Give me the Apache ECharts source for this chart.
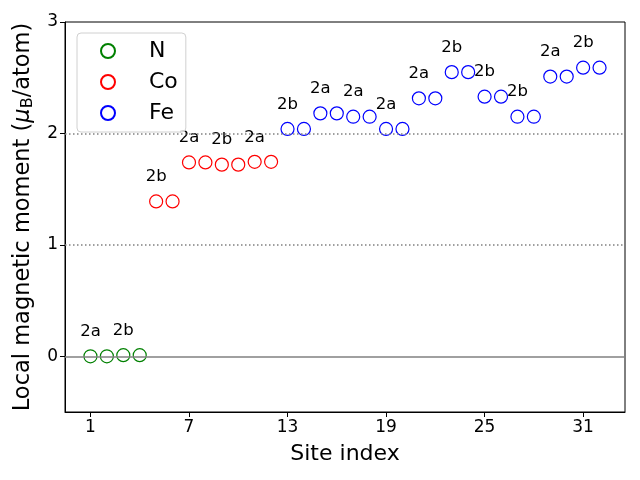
<!DOCTYPE html>
<html>
<head>
<meta charset="utf-8">
<script src="https://cdn.jsdelivr.net/npm/echarts@6/dist/echarts.min.js"></script>
<style>html,body{margin:0;padding:0;background:#fff}#c{width:640px;height:480px}</style>
</head>
<body>
<div id="c"></div>
<script>
var nSites = [1, 2, 3, 4];
var nValues = [0.0, 0.0, 0.01, 0.01];
var coSites = [5, 6, 7, 8, 9, 10, 11, 12];
var coValues = [1.39, 1.39, 1.74, 1.74, 1.72, 1.72, 1.745, 1.745];
var feSites = [13, 14, 15, 16, 17, 18, 19, 20, 21, 22, 23, 24, 25, 26, 27, 28, 29, 30, 31, 32];
var feValues = [2.04, 2.04, 2.18, 2.18, 2.15, 2.15, 2.04, 2.04, 2.315, 2.315, 2.55, 2.55, 2.33, 2.33, 2.15, 2.15, 2.51, 2.51, 2.59, 2.59];
var labelSites = [1, 3, 5, 7, 9, 11, 13, 15, 17, 19, 21, 23, 25, 27, 29, 31];
var labelTexts = ['2a', '2b', '2b', '2a', '2b', '2a', '2b', '2a', '2a', '2a', '2a', '2b', '2b', '2b', '2a', '2b'];
var xTicks = [1, 7, 13, 19, 25, 31];
var yTicks = [0, 1, 2, 3];

function pairs(xs, ys) { return xs.map(function (x, i) { return [x, ys[i]]; }); }
function labelFor(x) {
  var i = labelSites.indexOf(x);
  return i >= 0 ? labelTexts[i] : '';
}
var labelCfg = {
  show: true, position: 'top', distance: 9,
  fontFamily: 'DejaVu Sans', fontSize: 16.5, color: '#000',
  formatter: function (p) { return labelFor(p.data[0]); }
};
function mkSeries(name, color, data, extra) {
  var s = {
    name: name, type: 'scatter', data: data,
    symbol: 'circle', symbolSize: 13,
    itemStyle: { color: 'rgba(255,255,255,0)', borderColor: color, borderWidth: 1.2, opacity: 1 },
    label: labelCfg,
    emphasis: { disabled: true },
    z: 3
  };
  if (extra) for (var k in extra) s[k] = extra[k];
  return s;
}
var font = 'DejaVu Sans';
var chart = echarts.init(document.getElementById('c'), null, { renderer: 'canvas' });
chart.setOption({
  animation: false,
  backgroundColor: '#fff',
  grid: { left: 65, right: 15, top: 22, bottom: 68, show: true, borderColor: '#000', borderWidth: 1, backgroundColor: 'transparent' },
  legend: {
    left: 77, top: 33, orient: 'vertical',
    padding: [7, 8, 8, 23],
    itemWidth: 14, itemHeight: 14, itemGap: 9,
    borderColor: '#d0d0d0', borderWidth: 1, borderRadius: 4,
    backgroundColor: 'rgba(255,255,255,0.8)',
    textStyle: { fontFamily: font, fontSize: 22, color: '#000', lineHeight: 22, padding: [0, 0, 0, 29] },
    data: ['N', 'Co', 'Fe']
  },
  xAxis: {
    type: 'value', min: -0.55, max: 33.55,
    name: 'Site index', nameLocation: 'middle', nameGap: 31,
    nameTextStyle: { fontFamily: font, fontSize: 22, color: '#000' },
    axisLine: { show: true, onZero: false, lineStyle: { color: '#000', width: 1 } },
    axisTick: { show: true, length: 5, lineStyle: { color: '#000' }, customValues: xTicks },
    axisLabel: { fontFamily: font, fontSize: 17, color: '#000', margin: 7, customValues: xTicks },
    splitLine: { show: false }
  },
  yAxis: {
    type: 'value', min: -0.5, max: 3,
    name: 'Local magnetic moment ({i|μ}{sub|B}/atom)', nameLocation: 'middle', nameGap: 21,
    nameRotate: 90,
    nameTextStyle: {
      fontFamily: font, fontSize: 22.5, color: '#000',
      rich: {
        i: { fontFamily: font, fontSize: 22.5, fontStyle: 'italic', color: '#000' },
        sub: { fontFamily: font, fontSize: 16, color: '#000', verticalAlign: 'bottom', padding: [10, 0, 0, 0] }
      }
    },
    axisLine: { show: true, onZero: false, lineStyle: { color: '#000', width: 1 } },
    axisTick: { show: true, length: 5, lineStyle: { color: '#000' }, customValues: yTicks },
    axisLabel: { fontFamily: font, fontSize: 17, color: '#000', margin: 7, customValues: yTicks },
    splitLine: { show: false }
  },
  series: [
    mkSeries('N', '#008000', pairs(nSites, nValues), {
      markLine: {
        silent: true, symbol: 'none', label: { show: false }, animation: false,
        data: [
          { yAxis: 0, lineStyle: { color: '#808080', width: 1.5, type: 'solid', opacity: 1 } },
          { yAxis: 1, lineStyle: { color: '#808080', width: 1.5, type: [1.5, 2.5], opacity: 1 } },
          { yAxis: 2, lineStyle: { color: '#808080', width: 1.5, type: [1.5, 2.5], opacity: 1 } }
        ]
      }
    }),
    mkSeries('Co', '#ff0000', pairs(coSites, coValues)),
    mkSeries('Fe', '#0000ff', pairs(feSites, feValues))
  ]
});
</script>
</body>
</html>
